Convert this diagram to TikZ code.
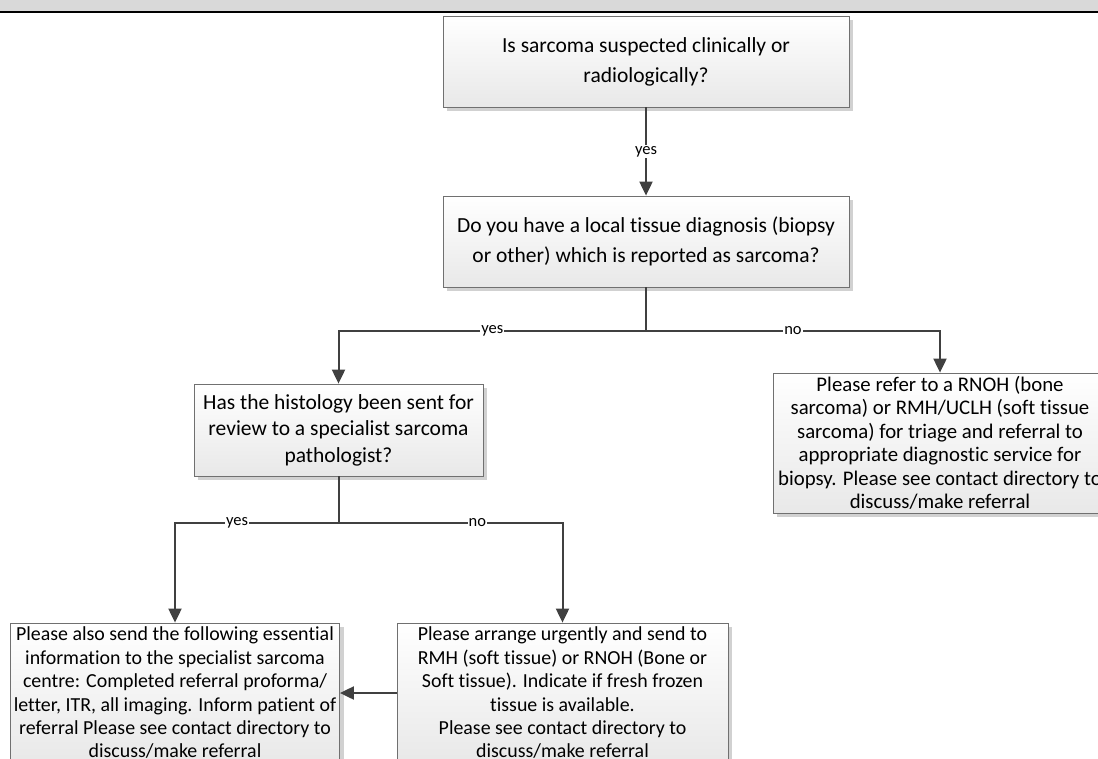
\documentclass[tikz,border=0pt]{standalone}
\usepackage{fontspec}
\setmainfont{Carlito}[Ligatures=NoCommon]
\usetikzlibrary{arrows.meta,shadows}
\definecolor{linegray}{HTML}{404040}
\definecolor{boxline}{HTML}{707070}
\definecolor{barfill}{HTML}{D9D9D9}
\begin{document}
\begin{tikzpicture}[x=1pt, y=-1pt, >={Triangle[width=13pt,length=14pt]},
    box/.style={draw=boxline, line width=0.8pt, top color=white, bottom color=black!9,
        inner sep=0pt, align=center,
        general shadow={fill=black!18, shadow xshift=4pt, shadow yshift=-4pt}},
    bigtext/.style={font=\fontsize{21.5}{30}\selectfont},
    smalltext/.style={font=\fontsize{19.9}{23.4}\selectfont},
    wire/.style={draw=linegray, line width=2pt},
    conn/.style={wire, ->},
    lbl/.style={fill=white, inner sep=1pt, font=\fontsize{16.5}{18}\selectfont}]
    \clip (0,0) rectangle (1098,758);
    \fill[barfill] (0,0) rectangle (1098,10.5);
    \draw[line width=2.5pt] (0,11.75) -- (1098,11.75);

    \node[box, bigtext, minimum width=406pt, minimum height=91pt] (suspect) at (646,61.5)
        {Is sarcoma suspected clinically or\\radiologically?};
    \node[box, bigtext, minimum width=406pt, minimum height=91pt] (diagnosis) at (646,241.5)
        {Do you have a local tissue diagnosis (biopsy\\or other) which is reported as sarcoma?};
    \node[box, font=\fontsize{21.5}{26.5}\selectfont, minimum width=289pt, minimum height=92pt] (review) at (338.5,430)
        {Has the histology been sent for\\review to a specialist sarcoma\\pathologist?};
    \node[box, font=\fontsize{20.8}{23.5}\selectfont, minimum width=334pt, minimum height=140pt] (refer) at (940,443)
        {Please refer to a RNOH (bone\\sarcoma) or RMH/UCLH (soft tissue\\sarcoma) for triage and referral to\\appropriate diagnostic service for\\biopsy. Please see contact directory to\\discuss/make referral};
    \node[box, smalltext, minimum width=329pt, minimum height=140pt] (inform) at (175,693)
        {Please also send the following essential\\information to the specialist sarcoma\\centre: Completed referral proforma/\\letter, ITR, all imaging. Inform patient of\\referral Please see contact directory to\\discuss/make referral};
    \node[box, smalltext, minimum width=331pt, minimum height=140pt] (arrange) at (562.5,693)
        {Please arrange urgently and send to\\RMH (soft tissue) or RNOH (Bone or\\Soft tissue). Indicate if fresh frozen\\tissue is available.\\Please see contact directory to\\discuss/make referral};

    \coordinate (split) at (646,331);
    \coordinate (splitlow) at (338.5,523);

    \draw[conn] (suspect) -- (diagnosis) node[midway, lbl] {yes};
    \draw[wire] (diagnosis) -- (split);
    \draw[conn] (split) -| (review) node[pos=0.25, lbl] {yes};
    \draw[conn] (split) -| (refer) node[pos=0.25, lbl] {no};
    \draw[wire] (review) -- (splitlow);
    \draw[conn] (splitlow) -| (inform) node[pos=0.31, lbl] {yes};
    \draw[conn] (splitlow) -| (arrange) node[pos=0.31, lbl] {no};
    \draw[conn] (arrange) -- (inform);
\end{tikzpicture}
\end{document}
